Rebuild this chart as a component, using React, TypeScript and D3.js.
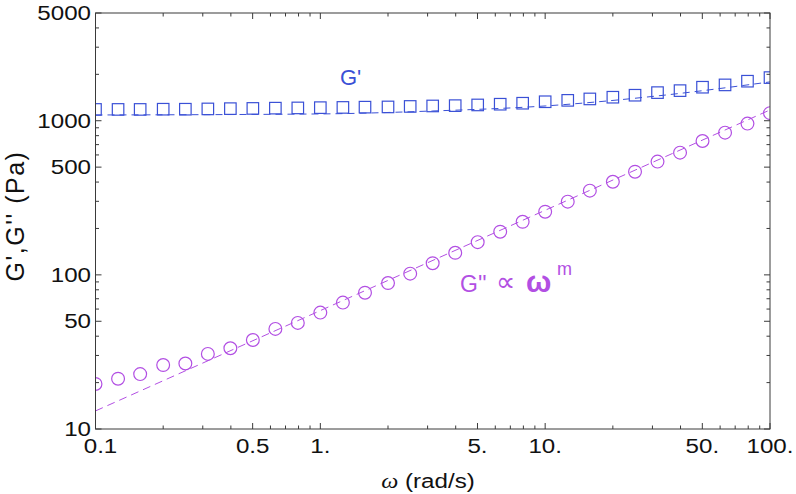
import React from "react";
import * as d3 from "d3";

// ---- data ----
const omegaK: number[] = Array.from({ length: 31 }, (_, k) => k); // index of the 31 log-spaced frequencies
const omega: number[] = [
  0.1, 0.126, 0.158, 0.2, 0.251, 0.316, 0.398, 0.501, 0.631, 0.794,
  1, 1.26, 1.58, 2, 2.51, 3.16, 3.98, 5.01, 6.31, 7.94,
  10, 12.6, 15.8, 20, 25.1, 31.6, 39.8, 50.1, 63.1, 79.4, 100,
];
const gPrime: number[] = [
  1184, 1184, 1184, 1188, 1188, 1193, 1198, 1202, 1207, 1211,
  1216, 1220, 1225, 1229, 1238, 1247, 1253, 1266, 1280, 1299,
  1328, 1356, 1385, 1421, 1464, 1522, 1568, 1650, 1708, 1805, 1905,
];
const gDouble: number[] = [
  19.6, 21.2, 22.7, 26.0, 26.6, 30.7, 33.4, 37.8, 44.6, 48.8,
  56.9, 66.1, 76.6, 88.5, 101.8, 119, 139, 163, 190.6, 221,
  257, 298.5, 352, 402, 467, 543, 621, 739, 837, 958, 1120,
];
const gPrimeFitX: number[] = [0.1, 1, 3.16, 10, 31.6, 100];
const gPrimeFitY: number[] = [1090, 1107, 1157, 1247, 1449, 1786];
const gDoubleFitX: number[] = [0.1, 100];
const gDoubleFitY: number[] = [13.1, 1175];

const xMajor: number[] = [0.1, 0.5, 1, 5, 10, 50, 100];
const xMajorLabels: string[] = ["0.1", "0.5", "1.", "5.", "10.", "50.", "100."];
const yMajor: number[] = [10, 50, 100, 500, 1000, 5000];
const yMajorLabels: string[] = ["10", "50", "100", "500", "1000", "5000"];
const minorMultipliers: number[] = [2, 3, 4, 6, 7, 8, 9];
const xDecades: number[] = [0.1, 1, 10];
const yDecades: number[] = [10, 100, 1000];

const BLUE = "#3a50d6";
const PURPLE = "#b24fe3";
const FRAME = "#3a3a3a";
const SANS = "'Liberation Sans', Arial, Helvetica, sans-serif";
const SX = 1.15; // horizontal stretch of the reference's text
const FS = 21;

export default function App() {
  const W = 796, H = 494;
  const L = 95.5, R = 770, T = 13, B = 429;
  const x = d3.scaleLog().domain([0.1, 100]).range([L, R]);
  const y = d3.scaleLog().domain([10, 5000]).range([B, T]);

  const xMinor = xDecades.flatMap((d) => minorMultipliers.map((m) => d * m)).filter((v) => v <= 100);
  const yMinor = yDecades.flatMap((d) => minorMultipliers.map((m) => d * m)).filter((v) => v <= 5000 && v !== 500 && v !== 5000);

  const lineGen = d3
    .line<[number, number]>()
    .x((d) => x(d[0]))
    .y((d) => y(d[1]))
    .curve(d3.curveMonotoneX);
  const gpFit = lineGen(gPrimeFitX.map((v, i) => [v, gPrimeFitY[i]] as [number, number])) || "";
  const gdFit = d3
    .line<[number, number]>()
    .x((d) => x(d[0]))
    .y((d) => y(d[1]))(gDoubleFitX.map((v, i) => [v, gDoubleFitY[i]] as [number, number])) || "";

  const majLen = 6, minLen = 3.5;
  const sq = 11.5;

  return (
    <svg width={W} height={H} style={{ position: "absolute", left: 0, top: 0, background: "#fff" }} fontFamily={SANS}>
      <defs>
        <clipPath id="plotClip">
          <rect x={L} y={T} width={R - L} height={B - T} />
        </clipPath>
      </defs>
      <rect x={0} y={0} width={W} height={H} fill="#fff" />

      <g clipPath="url(#plotClip)">
        <path d={gpFit} fill="none" stroke={BLUE} strokeWidth={1} strokeDasharray="7,5" />
        <path d={gdFit} fill="none" stroke={PURPLE} strokeWidth={1} strokeDasharray="8,5" />
        {omegaK.map((k) => (
          <rect
            key={"s" + k}
            x={x(omega[k]) - sq / 2}
            y={y(gPrime[k]) - sq / 2}
            width={sq}
            height={sq}
            fill="none"
            stroke={BLUE}
            strokeWidth={1.2}
          />
        ))}
        {omegaK.map((k) => (
          <circle
            key={"c" + k}
            cx={x(omega[k])}
            cy={y(gDouble[k])}
            r={6.4}
            fill="none"
            stroke={PURPLE}
            strokeWidth={1.2}
          />
        ))}
      </g>

      {/* frame */}
      <rect x={L} y={T} width={R - L} height={B - T} fill="none" stroke={FRAME} strokeWidth={1} />

      {/* x ticks */}
      {xMajor.map((v) => (
        <g key={"xm" + v}>
          <line x1={x(v)} x2={x(v)} y1={B} y2={B - majLen} stroke={FRAME} />
          <line x1={x(v)} x2={x(v)} y1={T} y2={T + majLen} stroke={FRAME} />
        </g>
      ))}
      {xMinor.map((v) => (
        <g key={"xn" + v}>
          <line x1={x(v)} x2={x(v)} y1={B} y2={B - minLen} stroke={FRAME} />
          <line x1={x(v)} x2={x(v)} y1={T} y2={T + minLen} stroke={FRAME} />
        </g>
      ))}
      {/* y ticks */}
      {yMajor.map((v) => (
        <g key={"ym" + v}>
          <line x1={L} x2={L + majLen} y1={y(v)} y2={y(v)} stroke={FRAME} />
          <line x1={R} x2={R - majLen} y1={y(v)} y2={y(v)} stroke={FRAME} />
        </g>
      ))}
      {yMinor.map((v) => (
        <g key={"yn" + v}>
          <line x1={L} x2={L + minLen} y1={y(v)} y2={y(v)} stroke={FRAME} />
          <line x1={R} x2={R - minLen} y1={y(v)} y2={y(v)} stroke={FRAME} />
        </g>
      ))}

      {/* tick labels */}
      {xMajor.map((v, i) => (
        <text
          key={"xl" + v}
          transform={`translate(${x(v) + (i === 0 ? 5 : 0)},446) scale(${SX},1)`}
          textAnchor="middle"
          dominantBaseline="central"
          fontSize={FS}
          fill="#111"
        >
          {xMajorLabels[i]}
        </text>
      ))}
      {yMajor.map((v, i) => (
        <text
          key={"yl" + v}
          transform={`translate(91,${y(v)}) scale(${SX},1)`}
          textAnchor="end"
          dominantBaseline="central"
          fontSize={FS}
          fill="#111"
        >
          {yMajorLabels[i]}
        </text>
      ))}

      {/* axis titles */}
      <text transform={`translate(428,488) scale(${SX},1)`} textAnchor="middle" fontSize={FS} fill="#111">
        <tspan fontFamily="'Liberation Serif', 'Times New Roman', serif" fontStyle="italic">ω</tspan>
        <tspan> (rad/s)</tspan>
      </text>
      <text
        transform={`translate(24,216) rotate(-90)`}
        textAnchor="middle"
        fontSize={25}
        letterSpacing={1.5}
        fill="#111"
      >
        G',G'' (Pa)
      </text>

      {/* annotations */}
      <text x={340} y={85} fontSize={22} fill={BLUE}>G'</text>
      <text x={460} y={292} fontSize={23} fill={PURPLE}>G''</text>
      <text x={496} y={291} fontSize={27} fill={PURPLE} fontFamily="'DejaVu Sans', sans-serif">∝</text>
      <text x={526} y={292} fontSize={30} fontWeight="bold" fill={PURPLE}>ω</text>
      <text x={557} y={275} fontSize={18} fill={PURPLE}>m</text>
    </svg>
  );
}
